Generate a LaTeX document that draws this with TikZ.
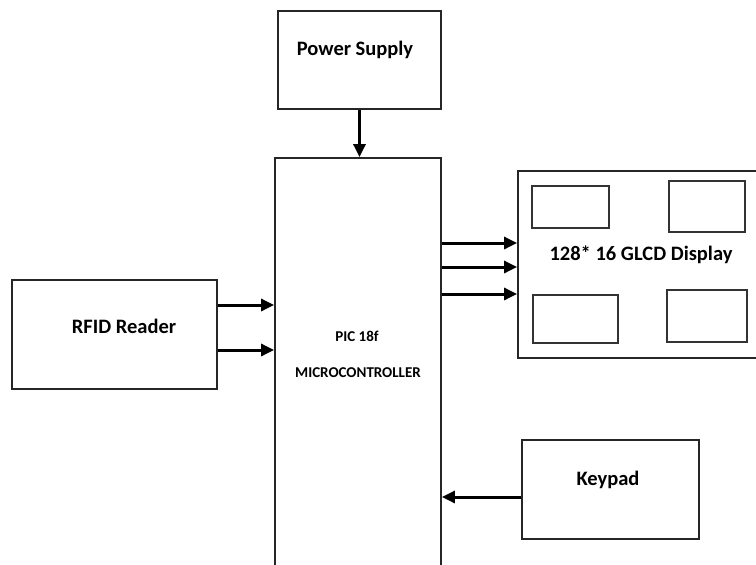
\documentclass[tikz,border=0pt]{standalone}
\usepackage{fontspec}
\setmainfont{Carlito}
\usetikzlibrary{arrows.meta,positioning}

\begin{document}
\begin{tikzpicture}[
  x=1pt, y=-1pt,
  font=\fontsize{20.5}{23}\selectfont\bfseries,
  block/.style={draw=black!85, line width=1.8pt, inner sep=0pt},
  panel/.style={draw=black!80, line width=1.6pt, inner sep=0pt},
  sig/.style={line width=3pt, -{Triangle[length=13pt,width=12pt]}},
  small/.style={font=\fontsize{15}{17}\selectfont\bfseries},
]
\useasboundingbox (0,0) rectangle (756,565);
\clip (0,0) rectangle (756,565);

% --- blocks ---
\node[block, minimum width=163pt, minimum height=98pt] (power) at (359.5,60) {};
\node at (355,50) {Power Supply};

\node[block, minimum width=166pt, minimum height=440pt] (pic) at (358,378) {};
\node[small] (pictxt) at (357,336) {PIC 18f};
\node[small] at (358,373) {MICROCONTROLLER};

\node[block, minimum width=205pt, minimum height=109pt] (rfid) at (114.5,334.5) {};
\node at (124,326) {RFID Reader};

\node[block, minimum width=260pt, minimum height=187pt] (glcd) at (648,264.5) {};
\node at (641,255) {128* 16 GLCD Display};

\node[block, minimum width=177pt, minimum height=99pt] (keypad) at (610.5,489.5) {};
\node at (608,480) {Keypad};

% --- display panels ---
\node[panel, minimum width=77pt, minimum height=42pt] (p1) at (570.5,207) {};
\node[panel, minimum width=76pt, minimum height=51pt] (p2) at (707,206.5) {};
\node[panel, minimum width=85pt, minimum height=48pt] (p3) at (575.5,319) {};
\node[panel, minimum width=80pt, minimum height=52pt] (p4) at (707,316) {};

% --- signals ---
\draw[sig] (power.south) -- (power.south |- pic.north);
\foreach \yy in {305,350} {
  \draw[sig] (rfid.east |- 0,\yy) -- (pic.west |- 0,\yy);
}
\foreach \yy in {243,267,294} {
  \draw[sig] (pic.east |- 0,\yy) -- (glcd.west |- 0,\yy);
}
\draw[sig] (keypad.west |- 0,497) -- (pic.east |- 0,497);

\end{tikzpicture}
\end{document}
